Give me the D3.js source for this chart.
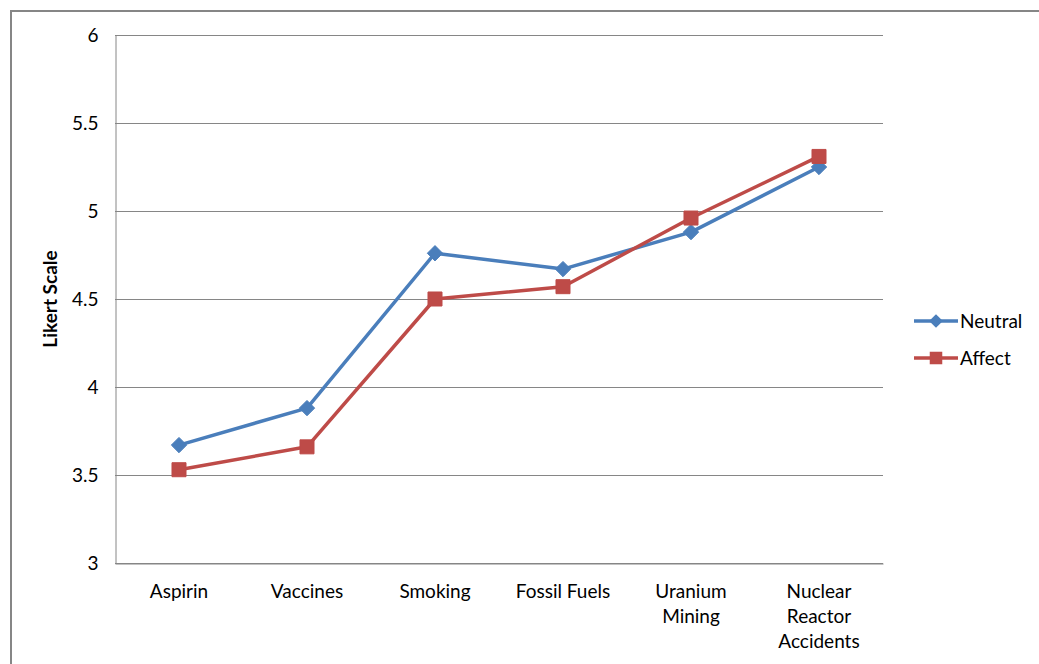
<!DOCTYPE html>
<html>
<head>
<meta charset="utf-8">
<script src="https://cdn.jsdelivr.net/npm/d3@7"></script>
<style>
  html, body { margin: 0; padding: 0; background: #fff; }
  svg { display: block; }
  text { font-family: Lato, "Open Sans", "Liberation Sans", sans-serif; fill: #000; }
</style>
</head>
<body>
<svg id="chart" width="1039" height="664"></svg>
<script>
// Risk perception ratings by topic
const categories = ["Aspirin", "Vaccines", "Smoking", "Fossil Fuels", "Uranium Mining", "Nuclear Reactor Accidents"];
const categoryLines = [["Aspirin"], ["Vaccines"], ["Smoking"], ["Fossil Fuels"], ["Uranium", "Mining"], ["Nuclear", "Reactor", "Accidents"]];
const neutralValues = [3.67, 3.88, 4.76, 4.67, 4.88, 5.25];
const affectValues = [3.53, 3.66, 4.50, 4.57, 4.96, 5.31];
const yTicks = [3, 3.5, 4, 4.5, 5, 5.5, 6];
const seriesNames = ["Neutral", "Affect"];

const svg = d3.select("#chart");
const plot = { left: 115, top: 35, right: 883, bottom: 563 };

// outer frame
svg.append("path")
  .attr("d", `M11,664 V11 H1039`)
  .attr("fill", "none").attr("stroke", "#868686").attr("stroke-width", 2);

const x = d3.scaleBand().domain(categories).range([plot.left, plot.right]);
const y = d3.scaleLinear().domain([3, 6]).range([plot.bottom, plot.top]);

// horizontal gridlines
svg.append("g").selectAll("line").data(yTicks).join("line")
  .attr("x1", plot.left).attr("x2", plot.right)
  .attr("y1", d => Math.round(y(d)) + 0.5).attr("y2", d => Math.round(y(d)) + 0.5)
  .attr("stroke", "#868686").attr("stroke-width", 1);

// y axis
const yAxis = svg.append("g")
  .attr("transform", `translate(${plot.left + 0.5},0)`)
  .call(d3.axisLeft(y).tickValues(yTicks).tickFormat(d3.format("")).tickSize(0).tickPadding(17));
yAxis.select(".domain").attr("stroke", "#868686");
yAxis.selectAll("text").style("font-size", "19px").attr("font-family", null).attr("dy", "0.34em");

// x axis
const xAxis = svg.append("g")
  .attr("transform", `translate(0,${plot.bottom + 0.5})`)
  .call(d3.axisBottom(x).tickSize(0).tickFormat(""));
xAxis.select(".domain").attr("stroke", "#868686");

const labels = svg.append("g");
categories.forEach((c, i) => {
  const t = labels.append("text")
    .attr("x", x(c) + x.bandwidth() / 2)
    .attr("y", 598)
    .attr("text-anchor", "middle")
    .style("font-size", "19px");
  categoryLines[i].forEach((ln, j) => {
    t.append("tspan").attr("x", x(c) + x.bandwidth() / 2).attr("y", 598 + j * 25).text(ln);
  });
});

// y axis title
svg.append("text")
  .attr("transform", `translate(57,${(plot.top + plot.bottom) / 2}) rotate(-90)`)
  .attr("text-anchor", "middle")
  .style("font-size", "19px").style("font-weight", "bold")
  .text("Likert Scale");

const colors = { Neutral: "#4A7EBB", Affect: "#BE4B48" };
const series = [
  { name: "Neutral", values: neutralValues, symbol: d3.symbolDiamond2, size: 150 },
  { name: "Affect", values: affectValues, symbol: d3.symbolSquare2, size: 250 }
];

const line = d3.line()
  .x((d, i) => x(categories[i]) + x.bandwidth() / 2)
  .y(d => y(d));

series.forEach(s => {
  const g = svg.append("g");
  g.append("path")
    .datum(s.values)
    .attr("d", line)
    .attr("fill", "none")
    .attr("stroke", colors[s.name])
    .attr("stroke-width", 3.5)
    .attr("stroke-linejoin", "round");
  g.selectAll("path.m").data(s.values).join("path")
    .attr("class", "m")
    .attr("transform", (d, i) => `translate(${x(categories[i]) + x.bandwidth() / 2},${y(d)})`)
    .attr("d", d3.symbol(s.symbol, s.size))
    .attr("fill", colors[s.name]).attr("stroke", colors[s.name]).attr("stroke-width", 1);
});

// legend
const legend = svg.append("g");
series.forEach((s, i) => {
  const ly = 321 + i * 37;
  legend.append("line")
    .attr("x1", 914).attr("x2", 958).attr("y1", ly).attr("y2", ly)
    .attr("stroke", colors[s.name]).attr("stroke-width", 3.5);
  legend.append("path")
    .attr("transform", `translate(936,${ly})`)
    .attr("d", d3.symbol(s.symbol, s.size * 0.8))
    .attr("fill", colors[s.name]);
  legend.append("text")
    .attr("x", 960).attr("y", ly).attr("dy", "0.35em")
    .style("font-size", "19px")
    .text(s.name);
});
</script>
</body>
</html>
